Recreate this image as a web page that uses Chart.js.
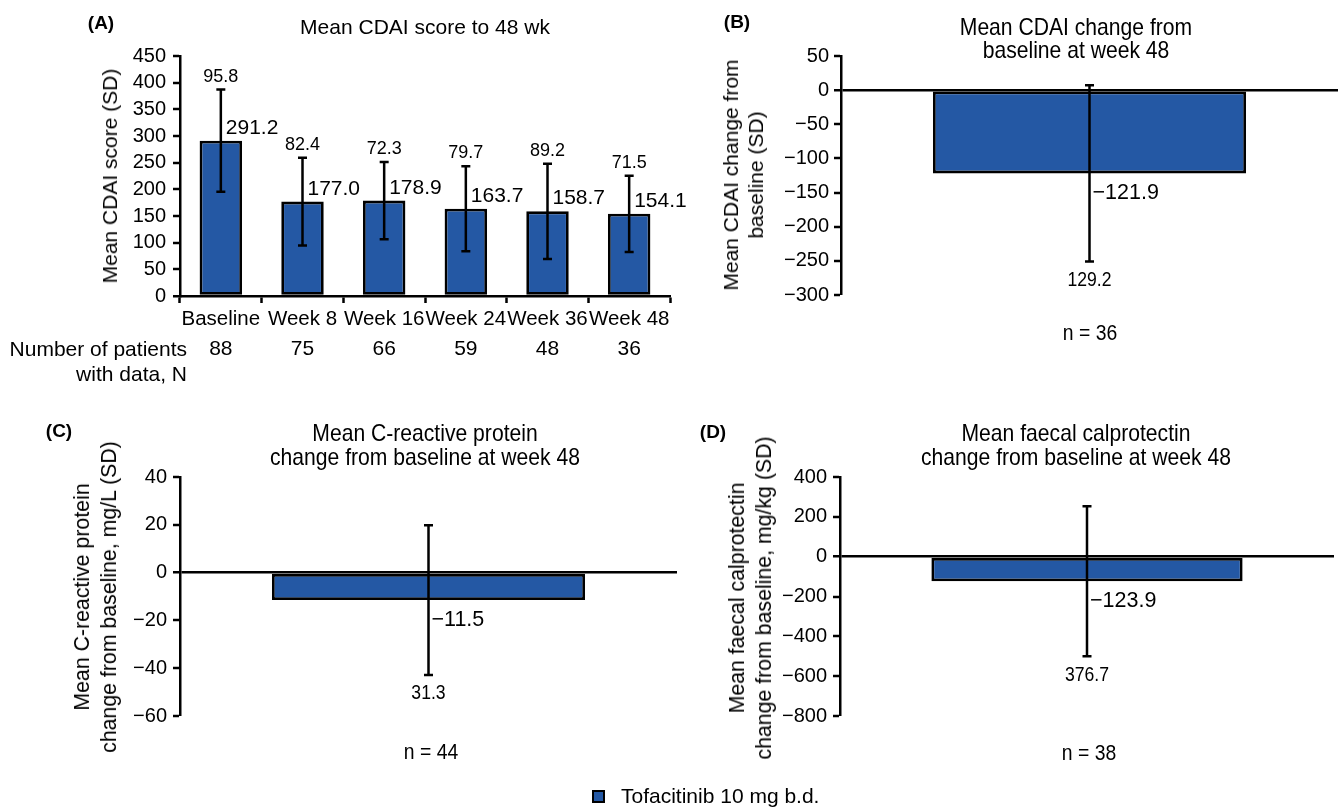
<!DOCTYPE html>
<html><head><meta charset="utf-8">
<script src="https://cdn.jsdelivr.net/npm/chart.js@4.4.1/dist/chart.umd.min.js"></script>
<style>
html,body{margin:0;padding:0;background:#fff;}
#wrap{position:relative;width:1339px;height:809px;overflow:hidden;font-family:"Liberation Sans",Arial,Helvetica,sans-serif;color:#000;}
canvas{position:absolute;left:0;top:0;}
.t{position:absolute;white-space:nowrap;line-height:24px;text-align:center;transform:translate(-50%,-50%);}
.r{position:absolute;white-space:nowrap;line-height:24px;text-align:right;transform:translate(-100%,-50%);}
.b{font-weight:bold;}
.rot{transform:translate(-50%,-50%) rotate(-90deg);}
.nar{transform:translate(-50%,-50%) scaleX(0.88);}
</style></head>
<body><div id="wrap">
<canvas id="cA" width="1339" height="809"></canvas>
<canvas id="cB" width="1339" height="809"></canvas>
<canvas id="cC" width="1339" height="809"></canvas>
<canvas id="cD" width="1339" height="809"></canvas>

<div class="t b" style="left:101px;top:23px;font-size:19px">(A)</div>
<div class="t" style="left:425px;top:27px;font-size:21px">Mean CDAI score to 48 wk</div>
<div class="t rot" style="left:110px;top:176px;font-size:21px">Mean CDAI score (SD)</div>
<div class="r" style="left:187px;top:349px;font-size:21px">Number of patients</div>
<div class="r" style="left:187px;top:374px;font-size:21px">with data, N</div>

<div class="t b" style="left:737px;top:22px;font-size:19px">(B)</div>
<div class="t nar" style="left:1076px;top:38px;font-size:24px;line-height:23px">Mean CDAI change from<br>baseline at week 48</div>
<div class="t rot" style="left:743px;top:175px;font-size:21px;line-height:25px">Mean CDAI change from<br>baseline (SD)</div>
<div class="t nar" style="left:1090px;top:333px;font-size:22px">n = 36</div>

<div class="t b" style="left:59px;top:431px;font-size:19px">(C)</div>
<div class="t nar" style="left:425px;top:445px;font-size:24px;line-height:24px">Mean C-reactive protein<br>change from baseline at week 48</div>
<div class="t rot" style="left:96px;top:597px;font-size:21.3px;line-height:27px">Mean C-reactive protein<br>change from baseline, mg/L (SD)</div>
<div class="t nar" style="left:431px;top:752px;font-size:22px">n = 44</div>

<div class="t b" style="left:713px;top:432px;font-size:19px">(D)</div>
<div class="t nar" style="left:1076px;top:445px;font-size:24px;line-height:24px">Mean faecal calprotectin<br>change from baseline at week 48</div>
<div class="t rot" style="left:751px;top:598px;font-size:21.3px;line-height:27px">Mean faecal calprotectin<br>change from baseline, mg/kg (SD)</div>
<div class="t nar" style="left:1089px;top:753px;font-size:22px">n = 38</div>

<div style="position:absolute;left:592px;top:790px;width:9px;height:9px;background:#2458a4;border:2px solid #000;"></div>
<div style="position:absolute;left:621px;top:784px;font-size:21px;line-height:24px;white-space:nowrap;">Tofacitinib 10 mg b.d.</div>
</div>
<script>
// ---------- DATA ----------
const categoriesA = ['Baseline', 'Week 8', 'Week 16', 'Week 24', 'Week 36', 'Week 48'];
const meanCDAI = [291.2, 177.0, 178.9, 163.7, 158.7, 154.1];
const sdCDAI = [95.8, 82.4, 72.3, 79.7, 89.2, 71.5];
const patientsN = [88, 75, 66, 59, 48, 36];
const ticksA = [0, 450, 50];          // min, max, step

const categoriesChange = ['Week 48'];
const meanCDAIChange = [-121.9];
const sdCDAIChange = [129.2];
const ticksB = [-300, 50, 50];

const meanCRPChange = [-11.5];
const sdCRPChange = [31.3];
const ticksC = [-60, 40, 20];

const meanFCChange = [-123.9];
const sdFCChange = [376.7];
const ticksD = [-800, 400, 200];

const seriesName = 'Tofacitinib 10 mg b.d.';

// ---------- STYLE / LAYOUT ----------
const W = 1339, H = 809, YW = 70, XH = 40;
const BLUE = '#2458a4';
const FONT = '"Liberation Sans", Arial, Helvetica, sans-serif';
const fmt = v => (v < 0 ? '\u2212' + Math.abs(v).toFixed(1) : v.toFixed(1));
const fmtTick = v => (v < 0 ? '\u2212' + Math.abs(v) : String(v));

function textN(ctx, s, x, y, sx) {
  ctx.save(); ctx.translate(x, y); ctx.scale(sx, 1); ctx.fillText(s, 0, 0); ctx.restore();
}

const errPlugin = {
  id: 'err',
  afterDatasetsDraw(chart, args, o) {
    const ctx = chart.ctx, ys = chart.scales.y;
    const ds = chart.data.datasets[0];
    const meta = chart.getDatasetMeta(0);
    meta.data.forEach((bar, i) => {
      const m = ds.data[i], sd = ds.sd[i];
      const x = bar.x;
      const yt = ys.getPixelForValue(m + sd), yb = ys.getPixelForValue(m - sd), ym = ys.getPixelForValue(m);
      ctx.save();
      ctx.strokeStyle = '#000'; ctx.lineWidth = 2.5; ctx.lineCap = 'butt';
      ctx.beginPath();
      ctx.moveTo(x, yt); ctx.lineTo(x, yb);
      ctx.moveTo(x - 4.5, yt); ctx.lineTo(x + 4.5, yt);
      ctx.moveTo(x - 4.5, yb); ctx.lineTo(x + 4.5, yb);
      ctx.stroke();
      ctx.fillStyle = '#000';
      if (o.mode === 'pos') {
        ctx.font = '18px ' + FONT; ctx.textAlign = 'center'; ctx.textBaseline = 'alphabetic';
        ctx.fillText(sd.toFixed(1), x, yt - 8);
        ctx.font = '21px ' + FONT; ctx.textAlign = 'left';
        ctx.fillText(fmt(m), x + 5, ym - 7);
        // patient numbers row
        ctx.font = '21px ' + FONT; ctx.textAlign = 'center'; ctx.textBaseline = 'middle';
        ctx.fillText(String(o.n[i]), x, 349);
      } else {
        ctx.font = '21.5px ' + FONT; ctx.textAlign = 'left'; ctx.textBaseline = 'middle';
        ctx.fillText(fmt(m), x + 3, ym + 20);
        ctx.font = '20px ' + FONT; ctx.textAlign = 'center';
        textN(ctx, sd.toFixed(1), x, yb + 19, 0.88);
      }
      ctx.restore();
    });
  }
};

function makeChart(id, labels, means, sds, geo, tk, mode, extra) {
  const isA = mode === 'pos';
  return new Chart(document.getElementById(id), {
    type: 'bar',
    data: {
      labels: labels,
      datasets: [{
        label: seriesName, data: means, sd: sds,
        backgroundColor: BLUE, borderColor: '#000', borderWidth: 2.8, borderSkipped: false,
        barPercentage: geo.bp, categoryPercentage: 1
      }]
    },
    plugins: [errPlugin],
    options: {
      responsive: false, animation: false, devicePixelRatio: 1,
      layout: { padding: { left: geo.left - YW, top: geo.top, right: W - geo.right, bottom: H - geo.bottom - (isA ? XH : 0) } },
      plugins: { legend: { display: false }, tooltip: { enabled: false }, title: { display: false }, err: { mode: mode, n: extra } },
      scales: {
        x: {
          display: isA, offset: true,
          grid: { display: true, drawOnChartArea: false, offset: true, tickLength: 7, tickColor: '#000', tickWidth: 2.5 },
          border: { display: true, color: '#000', width: 2.5 },
          ticks: { color: '#000', font: { family: FONT, size: 20.5 }, padding: 4, maxRotation: 0, autoSkip: false },
          afterFit: s => { s.height = isA ? XH : 0; }
        },
        y: {
          min: tk[0], max: tk[1],
          grid: {
            display: true, drawOnChartArea: !isA,
            color: c => (c.tick && c.tick.value === 0 ? '#000' : 'rgba(0,0,0,0)'),
            lineWidth: c => (c.tick && c.tick.value === 0 ? 2.5 : 0),
            tickLength: 7, tickColor: '#000', tickWidth: 2.5
          },
          border: { display: true, color: '#000', width: 2.5 },
          ticks: { stepSize: tk[2], autoSkip: false, color: '#000', font: { family: FONT, size: geo.tf }, padding: geo.tp, callback: v => fmtTick(v) },
          afterFit: s => { s.width = YW; }
        }
      }
    }
  });
}

makeChart('cA', categoriesA, meanCDAI, sdCDAI, { left: 180, right: 670, top: 56, bottom: 296, bp: 0.52, tf: 20, tp: 7 }, ticksA, 'pos', patientsN);
makeChart('cB', categoriesChange, meanCDAIChange, sdCDAIChange, { left: 841, right: 1338, top: 56, bottom: 295, bp: 0.63, tf: 20, tp: 5 }, ticksB, 'neg');
makeChart('cC', categoriesChange, meanCRPChange, sdCRPChange, { left: 180, right: 677, top: 477, bottom: 716, bp: 0.63, tf: 20, tp: 6 }, ticksC, 'neg');
makeChart('cD', categoriesChange, meanFCChange, sdFCChange, { left: 840, right: 1334, top: 477, bottom: 716, bp: 0.63, tf: 20, tp: 6 }, ticksD, 'neg');
</script>
</body></html>
